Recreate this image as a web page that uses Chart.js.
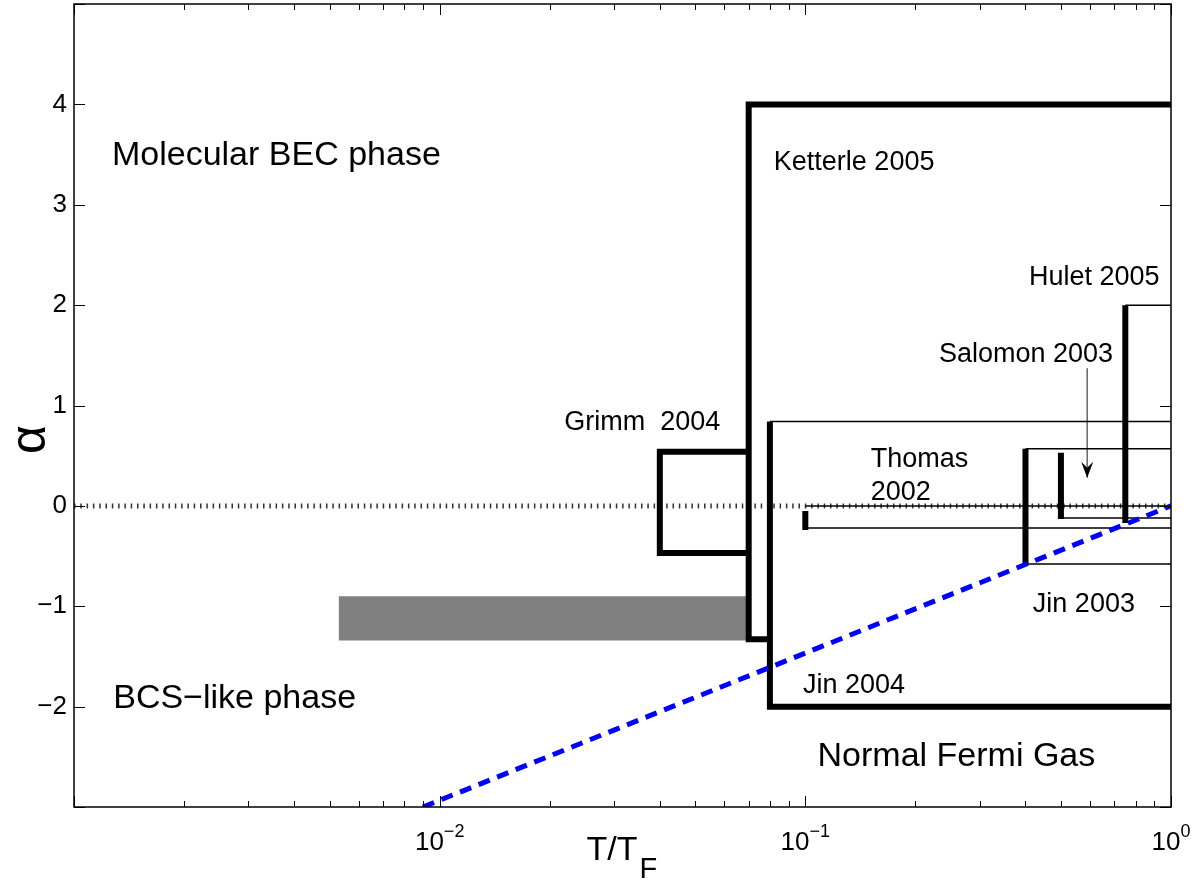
<!DOCTYPE html>
<html>
<head>
<meta charset="utf-8">
<script src="https://cdn.jsdelivr.net/npm/chart.js@4.4.1/dist/chart.umd.min.js"></script>
<style>
html, body { margin: 0; padding: 0; background: #fff; }
#wrap { width: 1200px; height: 882px; }
</style>
</head>
<body>
<div id="wrap"><canvas id="chart" width="1200" height="882"></canvas></div>
<script>
// axis ticks
const xMajorTicks = [0.001, 0.01, 0.1, 1];
const xMinorTicks = [0.002, 0.003, 0.004, 0.005, 0.006, 0.007, 0.008, 0.009,
                     0.02, 0.03, 0.04, 0.05, 0.06, 0.07, 0.08, 0.09,
                     0.2, 0.3, 0.4, 0.5, 0.6, 0.7, 0.8, 0.9];
const xTickLabels = [[0.01, '−2'], [0.1, '−1'], [1, '0']];
const yTicks = [-3, -2, -1, 0, 1, 2, 3, 4, 5];
const yTickLabels = [-2, -1, 0, 1, 2, 3, 4];

// experiments (T/T_F, alpha)
const ketterleT = [1, 0.07, 0.07, 0.08];
const ketterleA = [4, 4, -1.33, -1.33];

const jin04T = [0.08, 0.08, 1];
const jin04A = [0.84, -2, -2];
const jin04TopT = [0.08, 1];
const jin04TopA = [0.84, 0.84];

const grimmT = [0.07, 0.04, 0.04, 0.07];
const grimmA = [0.54, 0.54, -0.47, -0.47];

const thomasBarT = [0.1, 0.1];
const thomasBarA = [-0.05, -0.24];
const thomasTopT = [0.1, 1];
const thomasTopA = [0, 0];
const thomasBotT = [0.1, 1];
const thomasBotA = [-0.22, -0.22];

const jin03BarT = [0.4, 0.4];
const jin03BarA = [0.57, -0.58];
const jin03TopT = [0.4, 1];
const jin03TopA = [0.57, 0.57];
const jin03BotT = [0.4, 1];
const jin03BotA = [-0.58, -0.58];

const salomonBarT = [0.5, 0.5];
const salomonBarA = [0.53, -0.13];
const salomonLineT = [0.5, 1];
const salomonLineA = [-0.12, -0.12];

const huletBarT = [0.75, 0.75];
const huletBarA = [2.0, -0.17];
const huletLineT = [0.75, 1];
const huletLineA = [2.0, 2.0];

const bandT = [0.0053, 0.07, 0.07, 0.0053, 0.0053];
const bandA = [-0.9, -0.9, -1.34, -1.34, -0.9];

const zeroT = [0.001, 1];
const zeroA = [0, 0];

const critT = [0.009, 1];
const critA = [-3, 0];

const arrowT = [0.59, 0.59];
const arrowA = [1.37, 0.28];

// text annotations, anchored at left/baseline in data coordinates
const noteText = ['Molecular BEC phase', 'BCS−like phase', 'Normal Fermi Gas',
                  'Ketterle 2005', 'Grimm  2004', 'Thomas', '2002', 'Jin 2003',
                  'Jin 2004', 'Hulet 2005', 'Salomon 2003'];
const noteT = [0.00127, 0.00128, 0.108, 0.082, 0.0219, 0.151, 0.151, 0.419, 0.0985, 0.409, 0.232];
const noteA = [3.40, -2.01, -2.59, 3.35, 0.756, 0.387, 0.058, -1.057, -1.864, 2.20, 1.433];
const noteBig = [true, true, true, false, false, false, false, false, false, false, false];

const FONT = '"Liberation Sans", Arial, Helvetica, sans-serif';

function seg(ts, as, width, color, extra) {
    return Object.assign({
        data: ts.map((t, i) => ({ x: t, y: as[i] })),
        borderColor: color,
        borderWidth: width,
        pointRadius: 0,
        pointHoverRadius: 0,
        fill: false,
        tension: 0,
        borderCapStyle: 'butt',
        borderJoinStyle: 'miter'
    }, extra || {});
}

const THICK = 6;
const THIN = 1.5;

const decor = {
    id: 'decor',
    afterDatasetsDraw(chart) {
        const { ctx, chartArea: a, scales: { x, y } } = chart;
        ctx.save();

        // arrow head
        const ax = x.getPixelForValue(arrowT[1]);
        const ay = y.getPixelForValue(arrowA[1]);
        ctx.fillStyle = '#000';
        ctx.beginPath();
        ctx.moveTo(ax, ay);
        ctx.lineTo(ax - 6, ay - 16);
        ctx.lineTo(ax, ay - 10);
        ctx.lineTo(ax + 6, ay - 16);
        ctx.closePath();
        ctx.fill();

        // frame and inward ticks
        ctx.strokeStyle = '#000';
        ctx.lineWidth = 1.5;
        ctx.strokeRect(a.left, a.top, a.right - a.left, a.bottom - a.top);
        ctx.lineWidth = 1;
        ctx.beginPath();
        xMinorTicks.forEach(v => {
            const px = Math.round(x.getPixelForValue(v)) + 0.5;
            ctx.moveTo(px, a.bottom); ctx.lineTo(px, a.bottom - 6);
            ctx.moveTo(px, a.top); ctx.lineTo(px, a.top + 6);
        });
        xMajorTicks.forEach(v => {
            const px = Math.round(x.getPixelForValue(v)) + 0.5;
            ctx.moveTo(px, a.bottom); ctx.lineTo(px, a.bottom - 11);
            ctx.moveTo(px, a.top); ctx.lineTo(px, a.top + 11);
        });
        yTicks.forEach(v => {
            const py = Math.round(y.getPixelForValue(v)) + 0.5;
            ctx.moveTo(a.left, py); ctx.lineTo(a.left + 11, py);
            ctx.moveTo(a.right, py); ctx.lineTo(a.right - 11, py);
        });
        ctx.stroke();

        // tick labels
        ctx.fillStyle = '#000';
        ctx.font = '26px ' + FONT;
        ctx.textAlign = 'right';
        ctx.textBaseline = 'middle';
        yTickLabels.forEach(v => {
            const txt = v < 0 ? '−' + Math.abs(v) : String(v);
            ctx.fillText(txt, a.left - 7, y.getPixelForValue(v));
        });
        ctx.textAlign = 'left';
        ctx.textBaseline = 'alphabetic';
        xTickLabels.forEach(([v, exp]) => {
            ctx.font = '26px ' + FONT;
            const w1 = ctx.measureText('10').width;
            ctx.font = '18px ' + FONT;
            const w2 = ctx.measureText(exp).width;
            const x0 = x.getPixelForValue(v) - (w1 + w2) / 2;
            ctx.font = '26px ' + FONT;
            ctx.fillText('10', x0, a.bottom + 43);
            ctx.font = '18px ' + FONT;
            ctx.fillText(exp, x0 + w1, a.bottom + 30);
        });

        // axis titles
        ctx.font = '34px ' + FONT;
        const wT = ctx.measureText('T/T').width;
        const tx = (a.left + a.right) / 2 - 36;
        ctx.fillText('T/T', tx, a.bottom + 53);
        ctx.font = '29px ' + FONT;
        ctx.fillText('F', tx + wT + 2, a.bottom + 71);

        ctx.save();
        ctx.translate(a.left - 43, (a.top + a.bottom) / 2 + 34);
        ctx.rotate(-Math.PI / 2);
        ctx.font = '50px ' + FONT;
        ctx.textAlign = 'center';
        ctx.textBaseline = 'middle';
        ctx.fillText('α', 0, 0);
        ctx.restore();

        // annotations
        noteText.forEach((txt, i) => {
            ctx.font = (noteBig[i] ? '34px ' : '27px ') + FONT;
            ctx.fillText(txt, x.getPixelForValue(noteT[i]), y.getPixelForValue(noteA[i]));
        });

        ctx.restore();
    }
};

new Chart(document.getElementById('chart'), {
    type: 'line',
    data: {
        datasets: [
            seg(critT, critA, 5, '#0000ff', { borderDash: [12, 8] }),
            seg(ketterleT, ketterleA, THICK, '#000'),
            seg(jin04T, jin04A, THICK, '#000'),
            seg(grimmT, grimmA, THICK, '#000'),
            seg(thomasBarT, thomasBarA, THICK, '#000'),
            seg(jin03BarT, jin03BarA, THICK, '#000'),
            seg(salomonBarT, salomonBarA, THICK, '#000'),
            seg(huletBarT, huletBarA, THICK, '#000'),
            seg(jin04TopT, jin04TopA, THIN, '#000'),
            seg(thomasTopT, thomasTopA, THIN, '#000'),
            seg(thomasBotT, thomasBotA, THIN, '#000'),
            seg(jin03TopT, jin03TopA, THIN, '#000'),
            seg(jin03BotT, jin03BotA, THIN, '#000'),
            seg(salomonLineT, salomonLineA, THIN, '#000'),
            seg(huletLineT, huletLineA, THIN, '#000'),
            seg(arrowT, arrowA, 1.5, '#666'),
            seg(zeroT, zeroA, 5, '#333', { borderDash: [1.5, 4.8] }),
            seg(bandT, bandA, 0, 'rgba(0,0,0,0)', { fill: 'shape', backgroundColor: '#808080' })
        ]
    },
    options: {
        responsive: false,
        animation: false,
        devicePixelRatio: 1,
        layout: { padding: { left: 74, top: 4, right: 29, bottom: 75 } },
        scales: {
            x: { type: 'logarithmic', min: 0.001, max: 1, display: false },
            y: { type: 'linear', min: -3, max: 5, display: false }
        },
        plugins: {
            legend: { display: false },
            tooltip: { enabled: false }
        },
        events: []
    },
    plugins: [decor]
});
</script>
</body>
</html>
